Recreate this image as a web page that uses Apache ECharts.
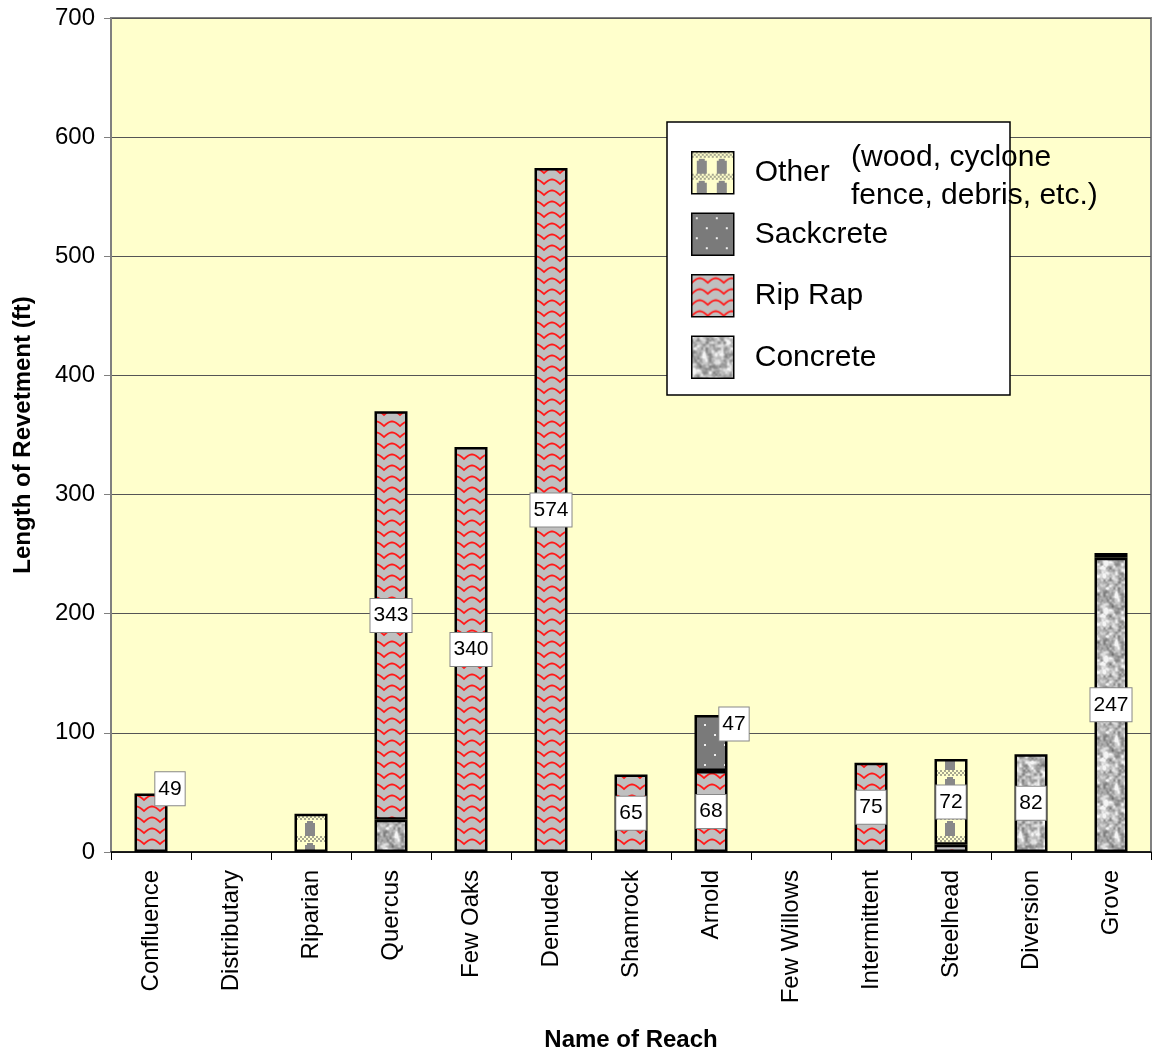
<!DOCTYPE html>
<html>
<head>
<meta charset="utf-8">
<title>Length of Revetment by Type per Reach</title>
<script src="https://cdn.jsdelivr.net/npm/echarts@6/dist/echarts.min.js"></script>
<style>
  html, body { margin: 0; padding: 0; background: #ffffff; }
  #chart { width: 1152px; height: 1054px; }
</style>
</head>
<body>
<div id="chart"></div>
<script>
// Reaches along the river, left to right
const reaches = ['Confluence', 'Distributary', 'Riparian', 'Quercus', 'Few Oaks', 'Denuded',
  'Shamrock', 'Arnold', 'Few Willows', 'Intermittent', 'Steelhead', 'Diversion', 'Grove'];

// Revetment length (ft) by type, one entry per reach (null = none)
const concrete  = [null, null, null, 27,  null, null, null, null, null, null, null, 82,   247];
const ripRap    = [49,   null, null, 343, 340,  574,  65,   68,   null, 75,   6,    null, 4];
const sackcrete = [null, null, null, null, null, null, null, 47,   null, null, null, null, null];
const other     = [null, null, 32,   null, null, null, null, null, null, null, 72,   null, null];

const yTicks = [0, 100, 200, 300, 400, 500, 600, 700];

const FONT = '"Liberation Sans", Arial, sans-serif';

// ---- fill textures -------------------------------------------------------
function makeCanvas(w, h) {
  const c = document.createElement('canvas');
  c.width = w; c.height = h;
  return c;
}

// grey ground with red wavy courses
function ripRapTexture() {
  const c = makeCanvas(16, 11);
  const g = c.getContext('2d');
  g.fillStyle = '#C0C0C0';
  g.fillRect(0, 0, 16, 11);
  g.strokeStyle = '#FF1a1a';
  g.lineWidth = 1.8;
  g.beginPath();
  for (let x = -2; x <= 18; x += 0.5) {
    const y = 8 - 4.5 * Math.abs(Math.sin(Math.PI * x / 16));
    if (x === -2) g.moveTo(x, y); else g.lineTo(x, y);
  }
  g.stroke();
  return c;
}

// mottled grey stone
function hash(x, y) {
  let h = Math.imul(x, 374761393) + Math.imul(y, 668265263);
  h = Math.imul(h ^ (h >>> 13), 1274126177);
  h = h ^ (h >>> 16);
  return (h >>> 0) / 4294967295;
}
function smoothNoise(x, y, cell, size) {
  const n = size / cell;
  const gx = x / cell, gy = y / cell;
  const x0 = Math.floor(gx), y0 = Math.floor(gy);
  const fx = gx - x0, fy = gy - y0;
  const sx = fx * fx * (3 - 2 * fx), sy = fy * fy * (3 - 2 * fy);
  const v = (i, j) => hash(((i % n) + n) % n + cell * 31, ((j % n) + n) % n + cell * 17);
  const a = v(x0, y0), b = v(x0 + 1, y0), c = v(x0, y0 + 1), d = v(x0 + 1, y0 + 1);
  return (a * (1 - sx) + b * sx) * (1 - sy) + (c * (1 - sx) + d * sx) * sy;
}
function concreteTexture() {
  const size = 48;
  const c = makeCanvas(size, size);
  const g = c.getContext('2d');
  const img = g.createImageData(size, size);
  for (let y = 0; y < size; y++) {
    for (let x = 0; x < size; x++) {
      let v = 0.4 * smoothNoise(x, y, 6, size) + 0.4 * smoothNoise(x, y, 3, size) +
              0.2 * smoothNoise(x, y, 2, size);
      v = Math.min(1, Math.max(0, (v - 0.5) * 1.7 + 0.6));
      const k = Math.round(110 + 135 * v);
      const p = (y * size + x) * 4;
      img.data[p] = k; img.data[p + 1] = k; img.data[p + 2] = k; img.data[p + 3] = 255;
    }
  }
  g.putImageData(img, 0, 0);
  return c;
}

// dark grey with white dots
function sackcreteTexture() {
  const c = makeCanvas(20, 20);
  const g = c.getContext('2d');
  g.fillStyle = '#7a7a7a';
  g.fillRect(0, 0, 20, 20);
  g.fillStyle = '#f0f0f0';
  g.fillRect(4, 4, 2, 2);
  g.fillRect(14, 14, 2, 2);
  return c;
}

// cream ground, checkered band and grey blocks
function otherTexture() {
  const c = makeCanvas(20, 22);
  const g = c.getContext('2d');
  g.fillStyle = '#FFFFCC';
  g.fillRect(0, 0, 20, 22);
  g.fillStyle = '#A8A890';
  for (let y = 0; y < 6; y += 2) {
    for (let x = 0; x < 20; x += 2) {
      if (((x + y) / 2) % 2 === 0) g.fillRect(x, y, 2, 2);
    }
  }
  g.fillStyle = '#888888';
  g.fillRect(5, 7, 10, 15);
  g.fillStyle = '#FFFFCC';
  g.fillRect(5, 7, 2, 2);
  g.fillRect(13, 7, 2, 2);
  return c;
}

const fills = {
  'Concrete':  { image: concreteTexture(),  repeat: 'repeat' },
  'Rip Rap':   { image: ripRapTexture(),    repeat: 'repeat' },
  'Sackcrete': { image: sackcreteTexture(), repeat: 'repeat' },
  'Other':     { image: otherTexture(),     repeat: 'repeat' }
};

// labels that sit beside the bar rather than on it
const labelShift = {
  'Rip Rap|Confluence': [19, -34],
  'Sackcrete|Arnold':   [23, -19]
};

function buildSeries(name, values) {
  return {
    name: name,
    type: 'bar',
    stack: 'revetment',
    barWidth: 33,
    itemStyle: { color: fills[name], borderColor: '#000000', borderWidth: 2.5 },
    label: {
      show: false,
      position: 'inside',
      color: '#000000',
      fontFamily: FONT,
      fontSize: 21,
      backgroundColor: '#ffffff',
      borderColor: '#888888',
      borderWidth: 1,
      padding: [7, 3, 5, 3]
    },
    data: values.map((v, i) => {
      if (v == null) return null;
      const item = { value: v };
      if (v >= 40) {
        item.label = { show: true };
        const shift = labelShift[name + '|' + reaches[i]];
        if (shift) item.label.offset = shift;
      }
      return item;
    })
  };
}

const chart = echarts.init(document.getElementById('chart'), null, { renderer: 'canvas' });

chart.setOption({
  animation: false,
  title: {
    text: 'Length of Revetment by Type per Reach',
    left: 631,
    textAlign: 'center',
    top: -30,
    textStyle: { fontFamily: FONT, fontSize: 26, fontWeight: 'bold', color: '#000' }
  },
  grid: {
    left: 111, top: 18, width: 1040, height: 834,
    outerBoundsMode: 'none',
    show: true, backgroundColor: '#FFFFCC', borderColor: '#808080', borderWidth: 2
  },
  legend: {
    data: ['Other', 'Sackcrete', 'Rip Rap', 'Concrete'],
    orient: 'vertical',
    left: 686, top: 146,
    icon: 'rect',
    itemWidth: 42, itemHeight: 42, itemGap: 18,
    itemStyle: { borderColor: '#000000', borderWidth: 1.5 },
    selectedMode: false,
    z: 6,
    textStyle: { fontFamily: FONT, fontSize: 30, color: '#000', padding: [0, 0, 0, 16] }
  },
  graphic: [
    {
      type: 'rect', z: 5,
      shape: { x: 667, y: 122, width: 343, height: 273 },
      style: { fill: '#ffffff', stroke: '#000000', lineWidth: 1.5 }
    },
    {
      type: 'text', z: 7, x: 851, y: 139,
      style: {
        text: '(wood, cyclone\nfence, debris, etc.)',
        font: '30px ' + FONT, fill: '#000', lineHeight: 38
      }
    }
  ],
  xAxis: {
    type: 'category',
    data: reaches,
    name: 'Name of Reach',
    nameLocation: 'middle',
    nameGap: 176,
    nameTextStyle: { fontFamily: FONT, fontSize: 24, fontWeight: 'bold', color: '#000' },
    axisLine: { lineStyle: { color: '#000000', width: 1.5 } },
    axisTick: { show: true, length: 8, lineStyle: { color: '#000000' } },
    axisLabel: {
      rotate: 90, margin: 18, interval: 0,
      fontFamily: FONT, fontSize: 24, color: '#000'
    }
  },
  yAxis: {
    type: 'value',
    min: 0, max: 700, interval: 100,
    name: 'Length of Revetment (ft)',
    nameLocation: 'middle',
    nameGap: 76,
    nameTextStyle: { fontFamily: FONT, fontSize: 24, fontWeight: 'bold', color: '#000' },
    axisLine: { show: true, lineStyle: { color: '#808080', width: 2 } },
    axisTick: { show: true, length: 7, lineStyle: { color: '#808080' } },
    axisLabel: {
      margin: 16, fontFamily: FONT, fontSize: 24, color: '#000',
      formatter: v => (yTicks.indexOf(v) >= 0 ? String(v) : '')
    },
    splitLine: { show: true, lineStyle: { color: '#555555', width: 1 } }
  },
  series: [
    buildSeries('Concrete', concrete),
    buildSeries('Rip Rap', ripRap),
    buildSeries('Sackcrete', sackcrete),
    buildSeries('Other', other)
  ]
});
</script>
</body>
</html>
